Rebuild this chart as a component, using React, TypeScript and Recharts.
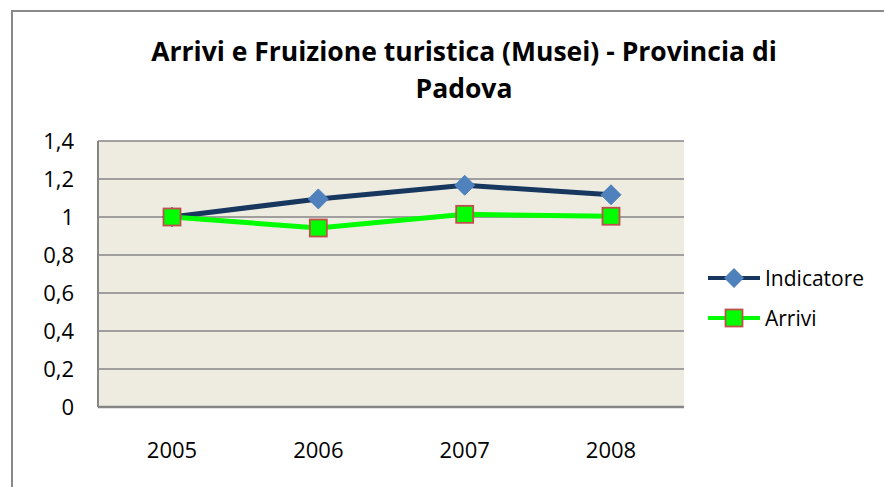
import React from "react";
import { LineChart, Line, XAxis, YAxis, CartesianGrid } from "recharts";

const years = ["2005", "2006", "2007", "2008"];
const indicatore = [1.0, 1.095, 1.167, 1.117];
const arrivi = [1.0, 0.942, 1.014, 1.004];
const yTicks = [0, 0.2, 0.4, 0.6, 0.8, 1, 1.2, 1.4];

const data = years.map((year, i) => ({
  year,
  Indicatore: indicatore[i],
  Arrivi: arrivi[i],
}));

const FONT = "'Open Sans', sans-serif";
const NAVY = "#17375E";
const DIAMOND = "#4F81BD";
const GREEN = "#00FF00";
const RED_EDGE = "#C0504D";

const DiamondDot = (props: any) => {
  const { cx, cy } = props;
  if (cx == null || cy == null) return null;
  const r = 10;
  return (
    <path
      d={`M${cx},${cy - r} L${cx + r},${cy} L${cx},${cy + r} L${cx - r},${cy} Z`}
      fill={DIAMOND}
      stroke={DIAMOND}
      strokeWidth={1}
    />
  );
};

const SquareDot = (props: any) => {
  const { cx, cy } = props;
  if (cx == null || cy == null) return null;
  const h = 8.5;
  return (
    <rect
      x={cx - h}
      y={cy - h}
      width={h * 2}
      height={h * 2}
      fill={GREEN}
      stroke={RED_EDGE}
      strokeWidth={1.8}
    />
  );
};

// legend drawn as html, outside the chart layout
const ChartLegend = () => (
  <div
    style={{
      position: "absolute",
      left: 705,
      top: 258,
      fontFamily: FONT,
      fontSize: 21,
      color: "#000",
    }}
  >
    <div style={{ display: "flex", alignItems: "center", height: 40 }}>
      <svg width={58} height={24}>
        <line x1={3} y1={12} x2={55} y2={12} stroke={NAVY} strokeWidth={4} />
        <path d="M29,2 L39,12 L29,22 L19,12 Z" fill={DIAMOND} />
      </svg>
      <span style={{ marginLeft: 2 }}>Indicatore</span>
    </div>
    <div style={{ display: "flex", alignItems: "center", height: 40 }}>
      <svg width={58} height={24}>
        <line x1={3} y1={12} x2={55} y2={12} stroke={GREEN} strokeWidth={4} />
        <rect x={20.5} y={3.5} width={17} height={17} fill={GREEN} stroke={RED_EDGE} strokeWidth={1.8} />
      </svg>
      <span style={{ marginLeft: 2 }}>Arrivi</span>
    </div>
  </div>
);

export default function App() {
  return (
    <div
      style={{
        position: "fixed",
        left: 0,
        top: 0,
        width: 884,
        height: 487,
        overflow: "hidden",
        background: "#FFFFFF",
        fontFamily: FONT,
      }}
    >
      <div
        style={{
          position: "absolute",
          left: 11,
          top: 10,
          width: 920,
          height: 520,
          border: "2px solid #898989",
        }}
      />
      <div
        style={{
          position: "absolute",
          left: 64,
          width: 800,
          top: 33,
          textAlign: "center",
          fontWeight: 700,
          fontSize: 26.5,
          lineHeight: "37px",
          color: "#000",
        }}
      >
        <div>Arrivi e Fruizione turistica (Musei) - Provincia di</div>
        <div>Padova</div>
      </div>
      <div style={{ position: "absolute", left: 0, top: 0 }}>
        <LineChart
          width={884}
          height={487}
          data={data}
          margin={{ top: 141, right: 200, bottom: 40, left: 0 }}
        >
          <CartesianGrid
            vertical={false}
            stroke="#868686"
            strokeWidth={1.6}
            fill="#EEECE1"
            fillOpacity={1}
          />
          <XAxis
            dataKey="year"
            height={40}
            padding={{ left: 74, right: 73 }}
            axisLine={{ stroke: "#868686", strokeWidth: 2.5 }}
            tickLine={false}
            tickSize={6}
            tickMargin={29}
            tick={{ fill: "#000", fontSize: 22, fontFamily: FONT }}
          />
          <YAxis
            width={98}
            domain={[0, 1.4]}
            ticks={yTicks}
            interval={0}
            axisLine={{ stroke: "#868686", strokeWidth: 2 }}
            tickLine={false}
            tickSize={6}
            tickMargin={18}
            tickFormatter={(v: number) => String(Math.round(v * 10) / 10).replace(".", ",")}
            tick={{ fill: "#000", fontSize: 22, fontFamily: FONT }}
          />
          <Line
            type="linear"
            dataKey="Indicatore"
            stroke={NAVY}
            strokeWidth={5}
            dot={<DiamondDot />}
            activeDot={false}
            isAnimationActive={false}
          />
          <Line
            type="linear"
            dataKey="Arrivi"
            stroke={GREEN}
            strokeWidth={5}
            dot={<SquareDot />}
            activeDot={false}
            isAnimationActive={false}
          />
        </LineChart>
      </div>
      <ChartLegend />
    </div>
  );
}
